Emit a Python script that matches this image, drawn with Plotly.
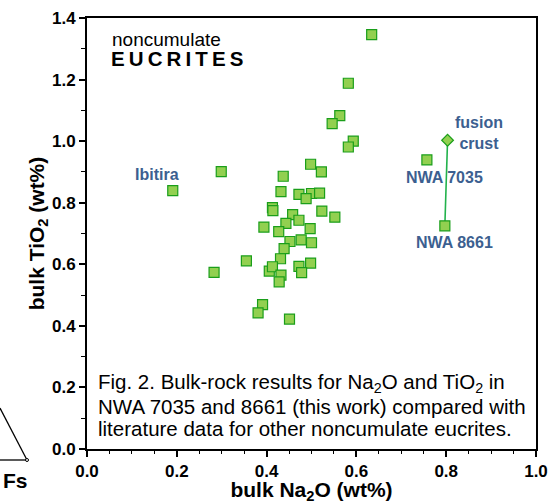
import plotly.graph_objects as go

# Literature noncumulate eucrites (Na2O, TiO2 wt%)
lit_na2o = [0.634, 0.582, 0.563, 0.546, 0.593, 0.582, 0.498, 0.522, 0.299, 0.437,
            0.432, 0.472, 0.500, 0.518, 0.488, 0.413, 0.414, 0.523, 0.552, 0.458,
            0.472, 0.443, 0.394, 0.427, 0.497, 0.452, 0.477, 0.500, 0.439, 0.431,
            0.355, 0.498, 0.472, 0.478, 0.406, 0.413, 0.432, 0.428, 0.283, 0.391,
            0.381, 0.451, 0.191]
lit_tio2 = [1.346, 1.188, 1.083, 1.057, 1.000, 0.981, 0.925, 0.900, 0.901, 0.886,
            0.836, 0.827, 0.830, 0.831, 0.813, 0.784, 0.774, 0.773, 0.753, 0.761,
            0.743, 0.733, 0.721, 0.706, 0.716, 0.674, 0.679, 0.670, 0.651, 0.618,
            0.611, 0.604, 0.593, 0.573, 0.578, 0.592, 0.565, 0.543, 0.574, 0.469,
            0.442, 0.422, 0.839]

# This work
nwa_names = ["NWA 7035", "NWA 8661"]
nwa_na2o = [0.757, 0.797]
nwa_tio2 = [0.939, 0.725]

# Fusion crust
fusion_na2o = [0.803]
fusion_tio2 = [1.003]

x_ticks = [0.0, 0.2, 0.4, 0.6, 0.8, 1.0]
y_ticks = [0.0, 0.2, 0.4, 0.6, 0.8, 1.0, 1.2, 1.4]

caption_lines = [
    "Fig. 2. Bulk-rock results for Na<sub>2</sub>O and TiO<sub>2</sub> in",
    "NWA 7035 and 8661 (this work) compared with",
    "literature data for other noncumulate eucrites.",
]

FONT = "Liberation Sans, Arial, sans-serif"
FILL = "#92d050"
EDGE = "#1a9e1a"
LABEL = "#3c5f90"

# plot-area geometry in pixels (for placing free text)
L, R, T, B = 87, 536, 18, 449
def px(xp):
    return (xp - L) / float(R - L)
def py(yp):
    return (B - yp) / float(B - T)

fig = go.Figure()

# tie line between NWA 8661 and its fusion crust
fig.add_trace(go.Scatter(
    x=[nwa_na2o[1], fusion_na2o[0]], y=[nwa_tio2[1], fusion_tio2[0]],
    mode="lines", line=dict(color="#22b24c", width=1.6), hoverinfo="skip"))

fig.add_trace(go.Scatter(
    x=lit_na2o, y=lit_tio2, mode="markers",
    marker=dict(symbol="square", size=10, color=FILL,
                line=dict(color=EDGE, width=1.2))))

fig.add_trace(go.Scatter(
    x=nwa_na2o, y=nwa_tio2, mode="markers",
    marker=dict(symbol="square", size=10, color=FILL,
                line=dict(color=EDGE, width=1.2))))

fig.add_trace(go.Scatter(
    x=fusion_na2o, y=fusion_tio2, mode="markers",
    marker=dict(symbol="diamond", size=9, color=FILL,
                line=dict(color=EDGE, width=1.2))))

lab_font = dict(family=FONT, size=16, color=LABEL, weight="bold")
fig.add_annotation(x=lit_na2o[-1], y=lit_tio2[-1], text="Ibitira", showarrow=False,
                   xanchor="center", yanchor="middle", yshift=16, xshift=-16, font=lab_font)
fig.add_annotation(x=nwa_na2o[0], y=nwa_tio2[0], text=nwa_names[0], showarrow=False,
                   xanchor="center", yanchor="middle", yshift=-18, xshift=18, font=lab_font)
fig.add_annotation(x=nwa_na2o[1], y=nwa_tio2[1], text=nwa_names[1], showarrow=False,
                   xanchor="center", yanchor="middle", yshift=-17, xshift=10, font=lab_font)
fig.add_annotation(x=fusion_na2o[0], y=fusion_tio2[0], text="fusion<br>crust", showarrow=False,
                   xanchor="center", yanchor="middle", yshift=7, xshift=31, font=lab_font)

# title text inside plot
fig.add_annotation(xref="paper", yref="paper", x=px(110), y=py(39), text="noncumulate",
                   showarrow=False, xanchor="left", yanchor="middle",
                   font=dict(family=FONT, size=19, color="black"))
fig.add_annotation(xref="paper", yref="paper", x=px(109), y=py(59),
                   text="E\u2009U\u2009C\u2009R\u2009I\u2009T\u2009E\u2009S",
                   showarrow=False, xanchor="left", yanchor="middle",
                   font=dict(family=FONT, size=20.5, color="black", weight="bold"))

# caption, one line each for tight line spacing
for line, ypix in zip(caption_lines, [383, 406, 428]):
    fig.add_annotation(xref="paper", yref="paper", x=px(96), y=py(ypix), text=line,
                       showarrow=False, xanchor="left", yanchor="middle", align="left",
                       font=dict(family=FONT, size=20.5, color="black"))

# fragment of neighbouring figure (triangle corner, "Fs")
fig.add_shape(type="line", xref="paper", yref="paper", x0=px(0), y0=py(408), x1=px(27), y1=py(460),
              line=dict(color="black", width=1.3))
fig.add_shape(type="line", xref="paper", yref="paper", x0=px(0), y0=py(460), x1=px(27), y1=py(460),
              line=dict(color="black", width=1.3))
fig.add_shape(type="circle", xref="paper", yref="paper", x0=px(25.5), y0=py(461.5), x1=px(28.5), y1=py(458.5),
              line=dict(color="black", width=1), fillcolor="white")
fig.add_annotation(xref="paper", yref="paper", x=px(15), y=py(480), text="Fs", showarrow=False,
                   xanchor="center", yanchor="middle",
                   font=dict(family=FONT, size=21, color="black", weight="bold"))

axis_common = dict(showgrid=False, zeroline=False, showline=True, linecolor="black",
                   linewidth=2, mirror=True, ticks="outside", ticklen=6, tickwidth=1.5,
                   tickcolor="black", automargin=False,
                   tickfont=dict(family=FONT, size=17, color="black", weight="bold"))

fig.update_xaxes(range=[0, 1.0], tickvals=x_ticks, ticktext=[f"{v:.1f}" for v in x_ticks],
                 minor=dict(dtick=0.05, ticks="outside", ticklen=3, tickcolor="black", tickwidth=1.2),
                 title=dict(text="bulk Na<sub>2</sub>O (wt%)", standoff=8,
                            font=dict(family=FONT, size=21, color="black", weight="bold")),
                 **axis_common)
fig.update_yaxes(range=[0, 1.4], tickvals=y_ticks, ticktext=[f"{v:.1f}" for v in y_ticks],
                 minor=dict(dtick=0.1, ticks="outside", ticklen=4, tickcolor="black", tickwidth=1.2),
                 title=dict(text="bulk TiO<sub>2</sub> (wt%)", standoff=2,
                            font=dict(family=FONT, size=21, color="black", weight="bold")),
                 **axis_common)

fig.update_layout(width=558, height=504, showlegend=False,
                  margin=dict(l=L, r=558 - R, t=T, b=504 - B),
                  paper_bgcolor="white", plot_bgcolor="white")

fig.write_html("out.html", config={"displayModeBar": False},
               post_script="document.body.style.margin='0';document.body.style.padding='0';")
